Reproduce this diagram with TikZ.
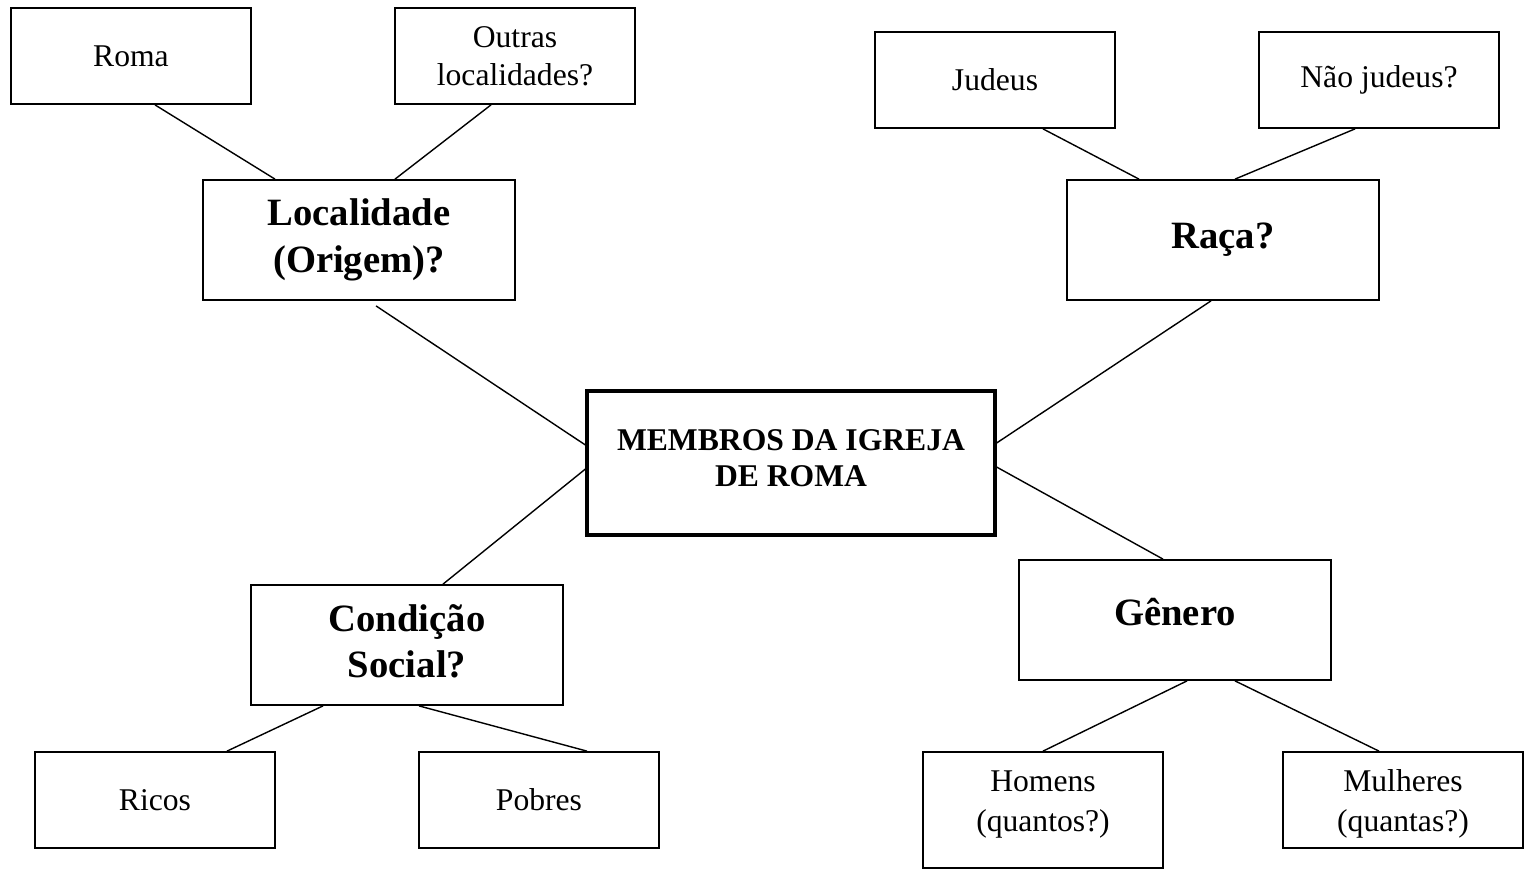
\documentclass[tikz,border=0pt]{standalone}
\usepackage{fontspec}
\setmainfont{Liberation Serif}
\usepackage{tikz}

\begin{document}
\begin{tikzpicture}[caixa/.style={draw,line width=1pt,minimum width=4.8cm,minimum height=1.92cm,align=center,inner sep=0pt,font=\fontsize{18}{21.6}\selectfont},
	topico/.style={draw,line width=1pt,minimum width=6.24cm,minimum height=2.4cm,align=center,inner sep=0pt,font=\fontsize{22}{26.7}\selectfont\bfseries},
	ligacao/.style={line width=0.8pt}]
			\useasboundingbox (0,0) rectangle (30.54,-17.4);
			\node[caixa] (roma) at (2.62,-1.12) {Roma};
			\node[caixa] (outras) at (10.3,-1.12) {Outras\\localidades?};
			\node[topico] (local) at (7.18,-4.8) {Localidade\\(Origem)?};
			\node[caixa] (judeus) at (19.9,-1.6) {Judeus};
			\node[caixa] (naojudeus) at (27.58,-1.6) {Não judeus?};
			\node[topico] (raca) at (24.46,-4.8) {Raça?};
			\node[draw,line width=1.8pt,minimum width=8.16cm,minimum height=2.88cm,align=center,inner sep=0pt,text depth=0.2cm,font=\fontsize{18}{21}\selectfont\bfseries] (membros) at (15.82,-9.26) {MEMBROS DA IGREJA\\DE ROMA};
			\node[topico,text depth=0.16cm] (condicao) at (8.14,-12.9) {Condição\\Social?};
			\node[caixa] (ricos) at (3.1,-16.0) {Ricos};
			\node[caixa] (pobres) at (10.78,-16.0) {Pobres};
			\node[topico,text depth=0.32cm] (genero) at (23.5,-12.4) {Gênero};
			\node[caixa,minimum height=2.32cm,text depth=0.34cm,font=\fontsize{18}{22.8}\selectfont] (homens) at (20.86,-16.2) {Homens\\(quantos?)};
			\node[caixa,font=\fontsize{18}{22.8}\selectfont] (mulheres) at (28.06,-16.0) {\rule{0pt}{0.6cm}Mulheres\\(quantas?)};
			
			\draw[ligacao] ([xshift=0.48cm]roma.south) -- ([xshift=-1.68cm]local.north);
			\draw[ligacao] ([xshift=-0.48cm]outras.south) -- ([xshift=0.72cm]local.north);
			\draw[ligacao] ([xshift=0.34cm,yshift=-0.1cm]local.south) -- ([yshift=0.36cm]membros.west);
			\draw[ligacao] ([xshift=0.96cm]judeus.south) -- ([xshift=-1.68cm]raca.north);
			\draw[ligacao] ([xshift=-0.48cm]naojudeus.south) -- ([xshift=0.24cm]raca.north);
			\draw[ligacao] ([xshift=-0.24cm]raca.south) -- ([yshift=0.4cm]membros.east);
			\draw[ligacao] ([yshift=-0.12cm]membros.west) -- ([xshift=0.72cm]condicao.north);
			\draw[ligacao] ([yshift=-0.08cm]membros.east) -- ([xshift=-0.24cm]genero.north);
			\draw[ligacao] ([xshift=-1.68cm]condicao.south) -- ([xshift=1.44cm]ricos.north);
			\draw[ligacao] ([xshift=0.24cm]condicao.south) -- ([xshift=0.96cm]pobres.north);
			\draw[ligacao] ([xshift=0.24cm]genero.south) -- (homens.north);
			\draw[ligacao] ([xshift=1.2cm]genero.south) -- ([xshift=-0.48cm]mulheres.north);
		\end{tikzpicture}
\end{document}
